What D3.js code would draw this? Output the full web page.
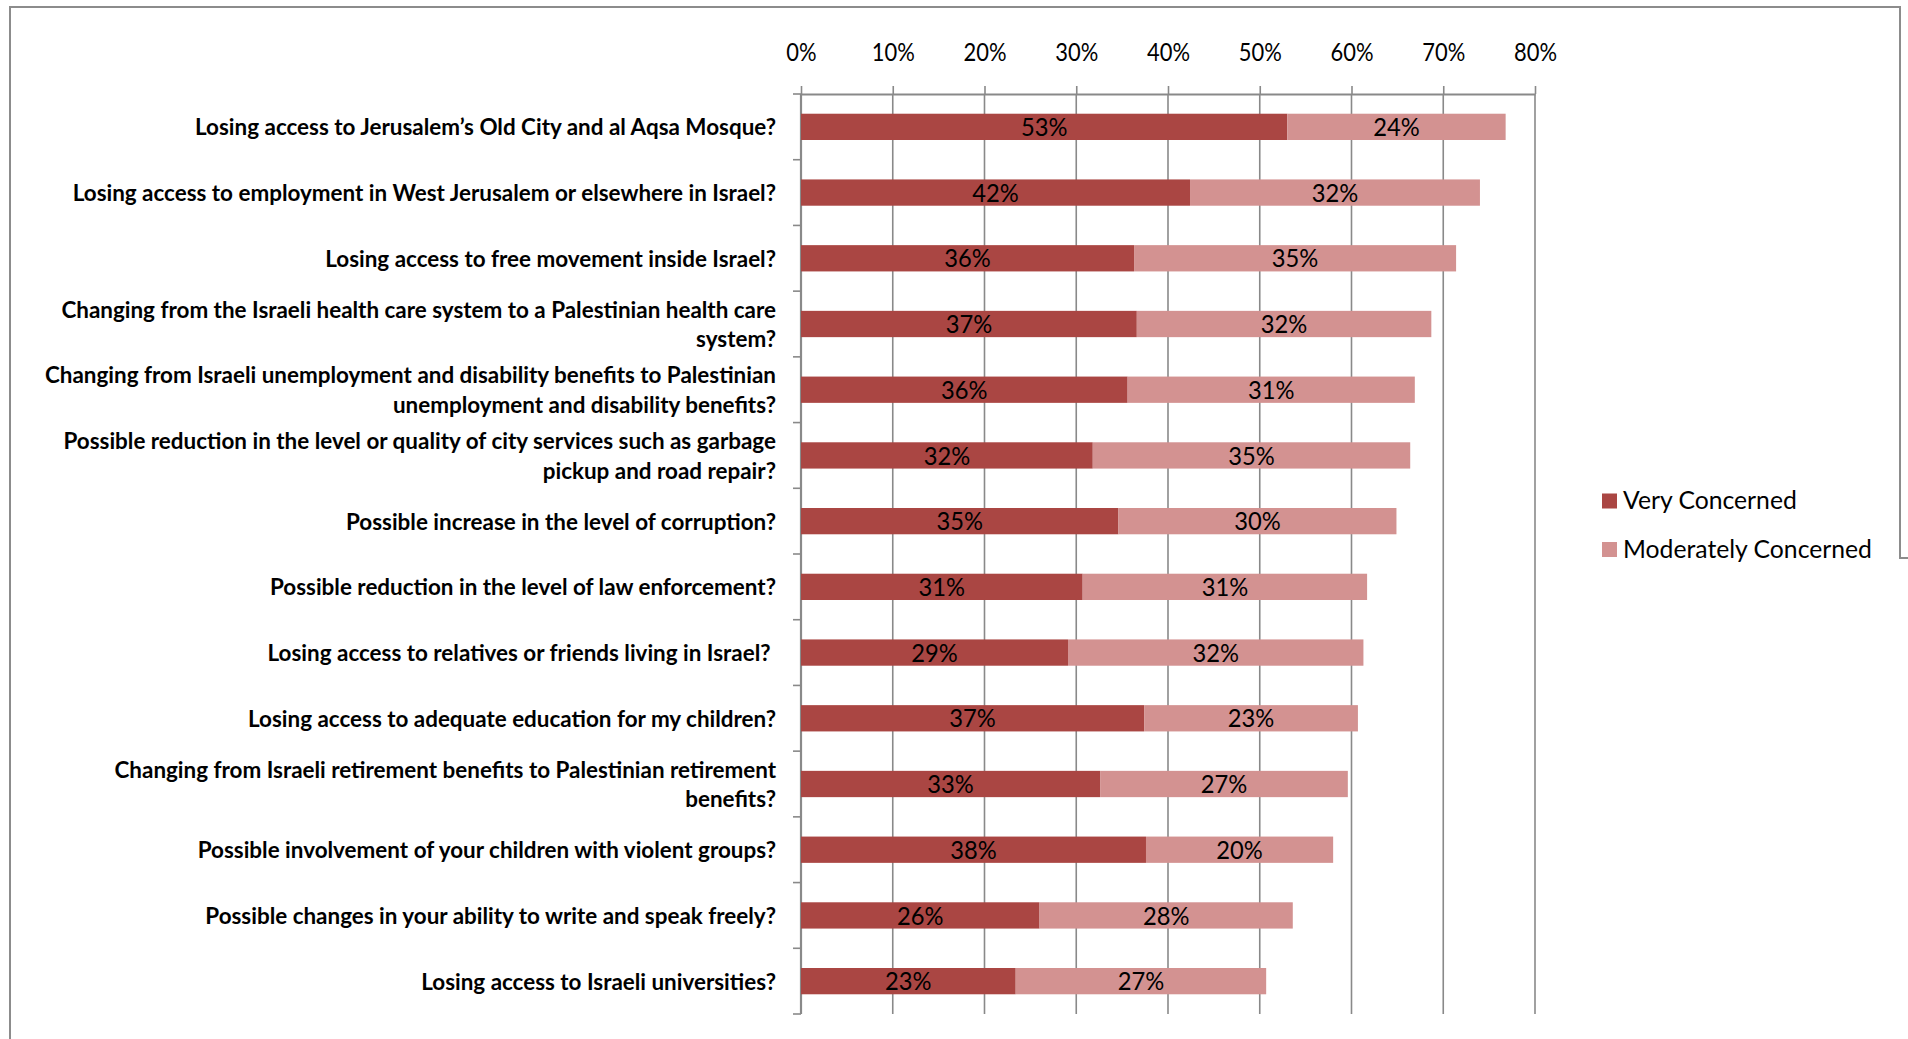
<!DOCTYPE html>
<html>
<head>
<meta charset="utf-8">
<script src="https://cdn.jsdelivr.net/npm/d3@7"></script>
<style>
  html, body { margin: 0; padding: 0; background: #fff; }
  svg { display: block; }
</style>
</head>
<body>
<div id="chart"></div>
<script>
// categories, top to bottom ("\n" = line break as in the original)
const categories = [
  "Losing access to Jerusalem’s Old City and al Aqsa Mosque?",
  "Losing access to employment in West Jerusalem or elsewhere in Israel?",
  "Losing access to free movement inside Israel?",
  "Changing from the Israeli health care system to a Palestinian health care\nsystem?",
  "Changing from Israeli unemployment and disability benefits to Palestinian\nunemployment and disability benefits?",
  "Possible reduction in the level or quality of city services such as garbage\npickup and road repair?",
  "Possible increase in the level of corruption?",
  "Possible reduction in the level of law enforcement?",
  "Losing access to relatives or friends living in Israel?\u00a0",
  "Losing access to adequate education for my children?",
  "Changing from Israeli retirement benefits to Palestinian retirement\nbenefits?",
  "Possible involvement of your children with violent groups?",
  "Possible changes in your ability to write and speak freely?",
  "Losing access to Israeli universities?"
];
const veryConcerned = [53.0, 42.4, 36.3, 36.6, 35.6, 31.8, 34.6, 30.7, 29.1, 37.4, 32.6, 37.6, 26.0, 23.4];
const moderatelyConcerned = [23.8, 31.6, 35.1, 32.1, 31.3, 34.6, 30.3, 31.0, 32.2, 23.3, 27.0, 20.4, 27.6, 27.3];
const seriesNames = ["Very Concerned", "Moderately Concerned"];
const seriesColors = ["#AA4643", "#D39291"];
const tickValues = [0, 10, 20, 30, 40, 50, 60, 70, 80];

const width = 1908, height = 1039;
const fontFamily = "Lato, 'Open Sans', sans-serif";
const gridColor = "#898989";

const svg = d3.select("#chart").append("svg")
  .attr("width", width)
  .attr("height", height);

// outer frame (cropped chart area)
svg.append("path")
  .attr("d", "M10,1039 L10,7 L1900,7 L1900,558 L1908,558")
  .attr("fill", "none")
  .attr("stroke", "#8c8c8c")
  .attr("stroke-width", 2);

const rows = categories.map((c, i) => ({
  name: c,
  [seriesNames[0]]: veryConcerned[i],
  [seriesNames[1]]: moderatelyConcerned[i]
}));

const x = d3.scaleLinear().domain([0, 80]).range([801, 1535]);
const y = d3.scaleBand()
  .domain(d3.range(categories.length))
  .range([94, 1014])
  .paddingInner(0.6)
  .paddingOuter(0.3);
const color = d3.scaleOrdinal().domain(seriesNames).range(seriesColors);

// vertical gridlines
svg.append("g")
  .selectAll("line")
  .data(tickValues.slice(1))
  .join("line")
  .attr("x1", d => x(d)).attr("x2", d => x(d))
  .attr("y1", 94).attr("y2", 1014)
  .attr("stroke", gridColor)
  .attr("stroke-width", 1.6);

// top axis
const xAxis = svg.append("g")
  .attr("transform", "translate(0,94)")
  .call(d3.axisTop(x)
    .tickValues(tickValues)
    .tickFormat(d => d + "%")
    .tickSize(8)
    .tickSizeOuter(0)
    .tickPadding(25));
xAxis.select(".domain").attr("stroke", gridColor).attr("stroke-width", 2.2);
xAxis.selectAll(".tick line").attr("stroke", gridColor).attr("stroke-width", 1.6);
xAxis.selectAll("text")
  .attr("fill", "#000")
  .style("font-family", fontFamily)
  .style("font-size", "24.5px");

// left axis with ticks between the categories
const bandEdges = d3.range(categories.length).map(i => y(i) - y.step() * y.paddingInner() / 2)
  .concat([y.range()[1]]);
const yAxis = svg.append("g");
yAxis.append("line")
  .attr("x1", x(0)).attr("x2", x(0))
  .attr("y1", 94).attr("y2", 1014)
  .attr("stroke", gridColor)
  .attr("stroke-width", 2.2);
yAxis.selectAll(".edge")
  .data(bandEdges)
  .join("line")
  .attr("class", "edge")
  .attr("x1", x(0) - 8).attr("x2", x(0))
  .attr("y1", d => d).attr("y2", d => d)
  .attr("stroke", gridColor)
  .attr("stroke-width", 1.6);

// stacked bars
const stacked = d3.stack().keys(seriesNames)(rows);
const layers = svg.append("g")
  .selectAll("g")
  .data(stacked)
  .join("g")
  .attr("fill", d => color(d.key));
layers.selectAll("rect")
  .data(d => d)
  .join("rect")
  .attr("x", d => x(d[0]))
  .attr("y", (d, i) => y(i))
  .attr("width", d => x(d[1]) - x(d[0]))
  .attr("height", y.bandwidth());

// value labels
const valueLabels = svg.append("g")
  .style("font-family", fontFamily)
  .style("font-size", "25.5px")
  .attr("text-anchor", "middle")
  .attr("fill", "#000");
stacked.forEach(layer => {
  valueLabels.selectAll(null)
    .data(layer)
    .join("text")
    .attr("transform", (d, i) => `translate(${(x(d[0]) + x(d[1])) / 2},${y(i) + y.bandwidth() / 2})`)
    .attr("dy", "0.36em")
    .text(d => Math.round(d[1] - d[0]) + "%");
});

// category labels, right aligned against the axis
const labelGroup = svg.append("g")
  .style("font-family", fontFamily)
  .style("font-size", "23.5px")
  .style("font-weight", "bold")
  .attr("text-anchor", "end")
  .attr("fill", "#000");
const labels = labelGroup.selectAll("text")
  .data(categories)
  .join("text")
  .attr("xml:space", "preserve")
  .each(function (d, i) {
    const lines = d.split("\n");
    const cy = y(i) + y.bandwidth() / 2;
    const lh = 29.5;
    d3.select(this).selectAll("tspan")
      .data(lines)
      .join("tspan")
      .attr("x", 0)
      .attr("y", (l, j) => cy + (j - (lines.length - 1) / 2) * lh)
      .attr("dy", "0.36em")
      .text(l => l);
  });
// narrow the glyphs so the line widths match the original Calibri text
const refWidth = labels.filter((d, i) => i === 0).node().getComputedTextLength();
const kx = 581 / refWidth;
labels.attr("transform", `translate(776,0) scale(${kx},1)`);

// same for numbers
const numRef = xAxis.selectAll("text").filter(d => d === 80).node().getComputedTextLength();
const kn = 43 / numRef;
xAxis.selectAll("text").attr("transform", `scale(${kn},1)`);
valueLabels.selectAll("text").each(function () {
  const t = d3.select(this);
  t.attr("transform", t.attr("transform") + ` scale(${kn * 1.04},1)`);
});

// legend
const legend = svg.append("g")
  .style("font-family", fontFamily)
  .style("font-size", "24.5px")
  .selectAll("g")
  .data(seriesNames)
  .join("g")
  .attr("transform", (d, i) => `translate(1602,${501 + i * 48.5})`);
legend.append("rect")
  .attr("x", 0).attr("y", -7.5)
  .attr("width", 15).attr("height", 15)
  .attr("fill", color);
const legendText = legend.append("text")
  .attr("dy", "0.34em")
  .attr("fill", "#000")
  .text(d => d);
const legRef = legendText.filter((d, i) => i === 1).node().getComputedTextLength();
const kl = 249 / legRef;
legendText.attr("transform", `translate(21,0) scale(${kl},1)`);
</script>
</body>
</html>
